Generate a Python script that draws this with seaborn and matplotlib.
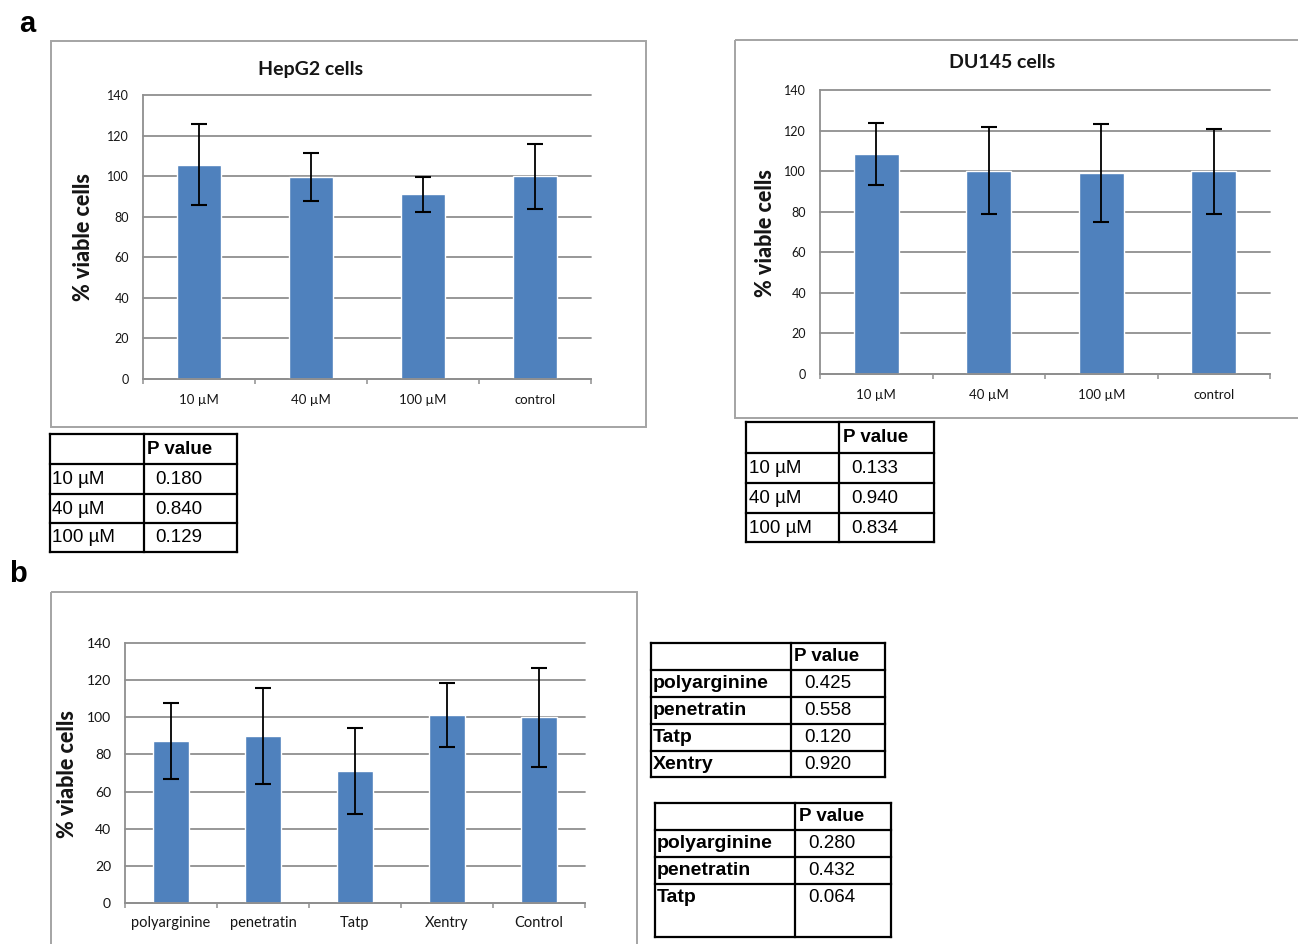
import numpy as np
import pandas as pd
import matplotlib
matplotlib.use("Agg")
import matplotlib.pyplot as plt
import seaborn as sns
from matplotlib.patches import Rectangle

# ---- data -------------------------------------------------------------
hepg2_labels = ["10 µM", "40 µM", "100 µM", "control"]
hepg2_mean = [105.6, 99.6, 91.0, 100.0]
hepg2_err = [20.0, 12.0, 8.5, 16.0]

du145_labels = ["10 µM", "40 µM", "100 µM", "control"]
du145_mean = [108.4, 100.2, 99.0, 100.0]
du145_err = [15.3, 21.5, 24.0, 21.0]

peptide_labels = ["polyarginine", "penetratin", "Tatp", "Xentry", "Control"]
peptide_mean = [87.3, 90.0, 71.0, 101.0, 100.0]
peptide_err = [20.5, 26.0, 23.3, 17.2, 26.7]

hepg2_p_labels = ["10 µM", "40 µM", "100 µM"]
hepg2_p_values = ["0.180", "0.840", "0.129"]
du145_p_labels = ["10 µM", "40 µM", "100 µM"]
du145_p_values = ["0.133", "0.940", "0.834"]
peptide_p1_labels = ["polyarginine", "penetratin", "Tatp", "Xentry"]
peptide_p1_values = ["0.425", "0.558", "0.120", "0.920"]
peptide_p2_labels = ["polyarginine", "penetratin", "Tatp"]
peptide_p2_values = ["0.280", "0.432", "0.064"]

y_ticks = [0, 20, 40, 60, 80, 100, 120, 140]

# ---- style ------------------------------------------------------------
sns.set_theme(style="white")
plt.rcParams["font.family"] = ["Lato", "DejaVu Sans"]

BAR = "#4F81BD"
GRID = "#8f8f8f"
TEXT = "#151515"
BOX = "#a4a4a4"
TABLE_FONT = ["Liberation Sans", "DejaVu Sans"]

W, H = 1298, 944
fig = plt.figure(figsize=(W / 100, H / 100), dpi=100)

# full-figure pixel-space layer for frames, tables and panel letters
bg = fig.add_axes([0, 0, 1, 1], zorder=0)
bg.set_xlim(0, W)
bg.set_ylim(H, 0)
bg.axis("off")


def px_axes(x0, y0, x1, y1):
    return fig.add_axes([x0 / W, 1 - y1 / H, (x1 - x0) / W, (y1 - y0) / H], zorder=2)


def frame(x0, y0, x1, y1):
    bg.add_patch(Rectangle((x0, y0), x1 - x0, y1 - y0, fill=False,
                           edgecolor=BOX, linewidth=1.4, clip_on=False))


def bar_panel(box, labels, mean, err, title=None, title_xy=None,
              ylabel_xy=None, tick_fs=9, xtick_fs=9.5, xpad=11):
    x0, y0, x1, y1 = box
    ax = px_axes(x0, y0, x1, y1)
    ax.set_facecolor("none")
    df = pd.DataFrame({"group": labels, "value": mean})
    sns.barplot(data=df, x="group", y="value", color=BAR, saturation=1,
                width=0.4, errorbar=None, ax=ax, zorder=2)
    ax.errorbar(np.arange(len(labels)), mean, yerr=err, fmt="none",
                ecolor="black", elinewidth=1.3, capsize=5.5, capthick=1.5,
                zorder=3)
    n = len(labels)
    ax.set_xlim(-0.5, n - 0.5)
    ax.set_ylim(0, 140)
    ax.set_yticks(y_ticks)
    ax.set_xticks(np.arange(-0.5, n, 1.0), minor=True)
    ax.grid(axis="y", color=GRID, linewidth=1.3, zorder=0)
    ax.set_axisbelow(True)
    for gl in ax.get_ygridlines():
        gl.set_clip_on(False)
    ax.grid(axis="x", visible=False)
    for s in ("top", "right"):
        ax.spines[s].set_visible(False)
    for s in ("left", "bottom"):
        ax.spines[s].set_color(GRID)
        ax.spines[s].set_linewidth(1.3)
    ax.tick_params(axis="y", which="major", length=3.5, width=1.1, color=GRID,
                   direction="out", pad=6.5, labelsize=tick_fs, labelcolor=TEXT)
    ax.tick_params(axis="x", which="major", length=0, pad=xpad,
                   labelsize=xtick_fs, labelcolor=TEXT)
    ax.tick_params(axis="x", which="minor", length=3.5, width=1.1, color=GRID,
                   direction="out", bottom=True)
    ax.set_xlabel("")
    ax.set_ylabel("% viable cells", fontsize=15.5, fontweight="black", color=TEXT)
    ax.yaxis.label.set_verticalalignment("center")
    lx, ly = ylabel_xy
    ax.yaxis.set_label_coords((lx - x0) / (x1 - x0), (y1 - ly) / (y1 - y0))
    if title:
        tx, ty = title_xy
        ax.text((tx - x0) / (x1 - x0), (y1 - ty) / (y1 - y0), title,
                transform=ax.transAxes, ha="center", va="center",
                fontsize=14, fontweight="bold", color=TEXT)
    return ax


def p_table(x0, xdiv, x1, ys, labels, values, hx, lx, vx,
            label_bold=False, label_fs=13.5, fs=13.5):
    lw = 1.6
    for y in ys:
        bg.plot([x0, x1], [y, y], color="black", lw=lw, solid_capstyle="projecting")
    for x in (x0, xdiv, x1):
        bg.plot([x, x], [ys[0], ys[-1]], color="black", lw=lw, solid_capstyle="projecting")
    rh = ys[1] - ys[0]
    bg.text(hx, ys[0] + rh / 2, "P value", ha="left", va="center",
            fontsize=fs, fontweight="bold", family=TABLE_FONT, color="black")
    for i, (lab, val) in enumerate(zip(labels, values)):
        yc = ys[i + 1] + rh / 2
        bg.text(lx, yc, lab, ha="left", va="center", fontsize=label_fs,
                fontweight="bold" if label_bold else "normal",
                family=TABLE_FONT, color="black")
        bg.text(vx, yc, val, ha="left", va="center", fontsize=fs,
                family=TABLE_FONT, color="black")


# ---- panel a ----------------------------------------------------------
bg.text(27, 24, "a", ha="center", va="center", fontsize=21, fontweight="bold",
        family=TABLE_FONT, color="black")
frame(51, 41, 646, 427)
bar_panel((143, 95, 591, 379), hepg2_labels, hepg2_mean, hepg2_err,
          title="HepG2 cells", title_xy=(311, 69), ylabel_xy=(83, 237))
p_table(50, 144, 237, [434, 464, 494, 523, 552], hepg2_p_labels,
        hepg2_p_values, hx=147, lx=52, vx=155)

frame(735, 40, 1320, 418)
bar_panel((820, 90, 1270, 374), du145_labels, du145_mean, du145_err,
          title="DU145 cells", title_xy=(1002, 63), ylabel_xy=(766, 233))
p_table(746, 839, 934, [422, 453, 483, 513, 542], du145_p_labels,
        du145_p_values, hx=843, lx=749, vx=851)

# ---- panel b ----------------------------------------------------------
bg.text(18, 574, "b", ha="center", va="center", fontsize=21, fontweight="bold",
        family=TABLE_FONT, color="black")
frame(51, 592, 637, 960)
bar_panel((125, 643, 585, 903), peptide_labels, peptide_mean, peptide_err,
          ylabel_xy=(67, 774), tick_fs=10, xtick_fs=10.5, xpad=9.5)
p_table(651, 791, 885, [643, 670, 697, 724, 751, 777], peptide_p1_labels,
        peptide_p1_values, hx=794, lx=653, vx=804, label_bold=True, label_fs=14)
p_table(655, 795, 891, [803, 830, 857, 884, 937], peptide_p2_labels,
        peptide_p2_values, hx=799, lx=657, vx=808, label_bold=True, label_fs=14)

fig.savefig("out.png", dpi=100, facecolor="white")
